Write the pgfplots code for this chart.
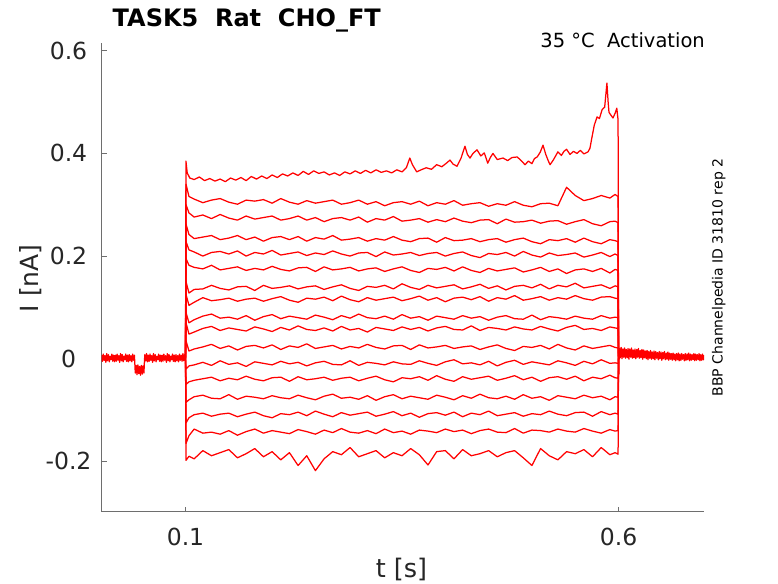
\documentclass[border=0pt]{standalone}
\usepackage{pgfplots}
\usepackage{pgfplotstable}
\pgfplotsset{compat=1.18}
\usepackage{fontspec}
\setmainfont{DejaVu Sans}
\definecolor{axgray}{RGB}{110,110,110}
\definecolor{ticktext}{RGB}{38,38,38}
\pgfplotsset{trace/.style={draw=red, line width=1.25pt, mark=none, line join=round}}

\pgfplotstableread{
t c2 c3 c4 c5 c6 c7 c8 c9 c10 c11 c12 c13 c14 c15 c16 c17
0.1000 0.002 0.002 0.002 0.002 0.002 0.002 0.002 0.002 0.002 0.002 0.002 0.002 0.002 0.002 0.002 0.002
0.1006 0.340 0.300 0.262 0.228 0.195 0.150 0.125 0.090 0.070 0.035 -0.020 -0.050 -0.085 -0.125 -0.165 -0.198
0.1040 0.316 0.284 0.242 0.212 0.182 0.128 0.104 0.070 0.048 0.015 -0.014 -0.045 -0.080 -0.115 -0.150 -0.190
0.11 0.311 0.276 0.234 0.208 0.178 0.135 0.110 0.076 0.052 0.019 -0.012 -0.042 -0.074 -0.109 -0.137 -0.195
0.12 0.304 0.280 0.237 0.200 0.175 0.136 0.119 0.083 0.059 0.023 -0.007 -0.039 -0.071 -0.106 -0.145 -0.179
0.13 0.309 0.273 0.240 0.207 0.182 0.143 0.113 0.087 0.063 0.028 -0.013 -0.036 -0.077 -0.112 -0.143 -0.189
0.14 0.312 0.281 0.232 0.209 0.173 0.137 0.115 0.079 0.055 0.020 -0.004 -0.043 -0.078 -0.108 -0.147 -0.183
0.15 0.305 0.274 0.235 0.204 0.176 0.134 0.118 0.081 0.060 0.025 -0.011 -0.038 -0.070 -0.106 -0.140 -0.177
0.16 0.301 0.270 0.240 0.210 0.179 0.140 0.112 0.077 0.057 0.017 -0.008 -0.041 -0.079 -0.113 -0.149 -0.193
0.17 0.309 0.278 0.232 0.200 0.172 0.141 0.116 0.084 0.054 0.024 -0.015 -0.034 -0.073 -0.108 -0.142 -0.185
0.18 0.307 0.272 0.237 0.207 0.176 0.133 0.118 0.075 0.062 0.026 -0.006 -0.040 -0.075 -0.104 -0.137 -0.175
0.19 0.310 0.275 0.229 0.204 0.173 0.143 0.112 0.082 0.058 0.021 -0.009 -0.043 -0.078 -0.111 -0.145 -0.191
0.20 0.303 0.278 0.236 0.211 0.180 0.137 0.117 0.086 0.053 0.027 -0.012 -0.037 -0.072 -0.115 -0.140 -0.181
0.21 0.312 0.270 0.238 0.202 0.174 0.139 0.121 0.078 0.061 0.018 -0.005 -0.036 -0.076 -0.107 -0.143 -0.197
0.22 0.305 0.273 0.232 0.205 0.171 0.142 0.114 0.083 0.056 0.025 -0.010 -0.044 -0.078 -0.109 -0.146 -0.183
0.23 0.301 0.278 0.238 0.208 0.177 0.136 0.110 0.080 0.064 0.022 -0.007 -0.035 -0.071 -0.104 -0.138 -0.208
0.24 0.308 0.270 0.229 0.201 0.178 0.140 0.118 0.077 0.057 0.029 -0.014 -0.041 -0.076 -0.111 -0.142 -0.189
0.25 0.303 0.275 0.236 0.206 0.170 0.142 0.116 0.085 0.055 0.020 -0.008 -0.039 -0.080 -0.102 -0.147 -0.218
0.26 0.306 0.267 0.233 0.203 0.179 0.135 0.120 0.081 0.060 0.023 -0.005 -0.036 -0.073 -0.108 -0.139 -0.195
0.27 0.309 0.273 0.240 0.210 0.173 0.140 0.113 0.076 0.054 0.026 -0.011 -0.042 -0.069 -0.113 -0.144 -0.181
0.28 0.301 0.275 0.231 0.204 0.175 0.144 0.122 0.084 0.063 0.019 -0.012 -0.038 -0.077 -0.105 -0.136 -0.187
0.29 0.304 0.270 0.233 0.200 0.178 0.137 0.115 0.079 0.056 0.024 -0.004 -0.036 -0.075 -0.110 -0.143 -0.173
0.30 0.309 0.276 0.236 0.206 0.171 0.133 0.111 0.087 0.059 0.021 -0.013 -0.043 -0.079 -0.107 -0.145 -0.191
0.31 0.301 0.266 0.229 0.207 0.175 0.141 0.119 0.080 0.052 0.028 -0.007 -0.038 -0.072 -0.104 -0.140 -0.185
0.32 0.306 0.273 0.234 0.199 0.177 0.139 0.114 0.078 0.061 0.022 -0.009 -0.034 -0.081 -0.112 -0.146 -0.179
0.33 0.298 0.270 0.231 0.208 0.170 0.143 0.117 0.083 0.058 0.019 -0.012 -0.041 -0.074 -0.108 -0.137 -0.193
0.34 0.304 0.277 0.238 0.202 0.175 0.136 0.120 0.077 0.055 0.025 -0.006 -0.045 -0.070 -0.103 -0.144 -0.183
0.35 0.306 0.268 0.231 0.204 0.179 0.146 0.113 0.086 0.062 0.026 -0.010 -0.037 -0.078 -0.111 -0.141 -0.189
0.36 0.301 0.270 0.228 0.207 0.172 0.139 0.117 0.079 0.057 0.018 -0.011 -0.039 -0.073 -0.106 -0.147 -0.175
0.37 0.307 0.273 0.234 0.201 0.168 0.135 0.122 0.082 0.061 0.027 -0.004 -0.035 -0.076 -0.114 -0.139 -0.187
0.38 0.298 0.266 0.235 0.205 0.176 0.143 0.114 0.075 0.054 0.021 -0.009 -0.042 -0.079 -0.107 -0.141 -0.207
0.39 0.304 0.271 0.227 0.207 0.174 0.138 0.119 0.083 0.060 0.023 -0.013 -0.033 -0.071 -0.105 -0.144 -0.181
0.40 0.301 0.267 0.236 0.200 0.178 0.141 0.111 0.080 0.063 0.026 -0.006 -0.040 -0.075 -0.110 -0.137 -0.179
0.41 0.308 0.274 0.230 0.205 0.171 0.144 0.118 0.077 0.057 0.020 -0.002 -0.044 -0.080 -0.104 -0.142 -0.195
0.42 0.299 0.268 0.231 0.208 0.179 0.136 0.120 0.084 0.056 0.023 -0.010 -0.035 -0.072 -0.113 -0.139 -0.177
0.43 0.302 0.265 0.234 0.201 0.172 0.140 0.115 0.079 0.064 0.025 -0.008 -0.040 -0.077 -0.106 -0.146 -0.189
0.44 0.304 0.270 0.228 0.197 0.168 0.145 0.121 0.082 0.055 0.018 -0.012 -0.037 -0.069 -0.109 -0.140 -0.185
0.45 0.297 0.271 0.232 0.205 0.176 0.137 0.112 0.075 0.061 0.023 -0.005 -0.034 -0.076 -0.102 -0.137 -0.179
0.46 0.302 0.263 0.234 0.203 0.171 0.142 0.119 0.081 0.059 0.027 -0.014 -0.042 -0.078 -0.111 -0.143 -0.191
0.47 0.299 0.272 0.227 0.207 0.174 0.134 0.116 0.084 0.056 0.020 -0.007 -0.038 -0.073 -0.108 -0.144 -0.183
0.48 0.306 0.266 0.232 0.200 0.177 0.141 0.123 0.078 0.062 0.016 -0.003 -0.033 -0.079 -0.105 -0.136 -0.179
0.49 0.299 0.267 0.235 0.209 0.169 0.143 0.114 0.077 0.058 0.024 -0.011 -0.041 -0.070 -0.112 -0.145 -0.193
0.50 0.296 0.270 0.228 0.202 0.173 0.138 0.117 0.085 0.056 0.022 -0.006 -0.036 -0.077 -0.107 -0.139 -0.208
0.51 0.302 0.264 0.224 0.198 0.178 0.145 0.121 0.076 0.063 0.026 -0.009 -0.044 -0.074 -0.109 -0.140 -0.175
0.52 0.303 0.268 0.232 0.206 0.170 0.136 0.114 0.082 0.058 0.019 -0.012 -0.037 -0.081 -0.102 -0.143 -0.189
0.53 0.298 0.269 0.230 0.201 0.175 0.143 0.119 0.080 0.054 0.028 -0.004 -0.035 -0.072 -0.108 -0.137 -0.197
0.54 0.334 0.262 0.234 0.203 0.166 0.140 0.116 0.077 0.061 0.021 -0.008 -0.040 -0.075 -0.111 -0.141 -0.181
0.55 0.318 0.267 0.227 0.206 0.173 0.147 0.123 0.083 0.065 0.017 -0.013 -0.034 -0.078 -0.105 -0.143 -0.185
0.56 0.308 0.271 0.235 0.198 0.175 0.138 0.117 0.079 0.057 0.025 -0.005 -0.043 -0.071 -0.104 -0.136 -0.177
0.57 0.312 0.263 0.228 0.202 0.170 0.141 0.114 0.077 0.059 0.020 -0.010 -0.036 -0.076 -0.112 -0.141 -0.191
0.58 0.318 0.259 0.224 0.207 0.176 0.144 0.120 0.084 0.055 0.023 -0.002 -0.039 -0.073 -0.103 -0.145 -0.173
0.59 0.313 0.267 0.232 0.199 0.167 0.137 0.121 0.079 0.062 0.026 -0.009 -0.032 -0.080 -0.109 -0.138 -0.187
0.5960 0.320 0.268 0.230 0.204 0.174 0.142 0.118 0.081 0.060 0.022 -0.008 -0.037 -0.074 -0.106 -0.141 -0.183
0.5995 0.316 0.265 0.228 0.201 0.172 0.140 0.117 0.080 0.059 0.021 -0.009 -0.038 -0.075 -0.108 -0.140 -0.186
0.6000 0.005 0.005 0.005 0.005 0.005 0.005 0.005 0.005 0.005 0.005 0.005 0.005 0.005 0.005 0.005 0.005
}\steptab

\begin{document}
\begin{tikzpicture}[x=1pt,y=1pt]
\useasboundingbox (0,0) rectangle (778,583);
\begin{axis}[
  at={(101.5pt,71.3pt)}, anchor=south west,
  scale only axis, width=602.5pt, height=468.4pt,
  xmin=0.003, xmax=0.6987, ymin=-0.298, ymax=0.6145,
  axis x line*=bottom, axis y line*=left,
  axis line style={draw=axgray, line width=0.8pt, -},
  xtick={0.1,0.6}, xticklabels={0.1,0.6},
  ytick={-0.2,0,0.2,0.4,0.6}, yticklabels={-0.2,{0\hspace{12pt}},0.2,0.4,0.6},
  tick align=inside, major tick length=5pt,
  tick style={draw=axgray, line width=0.8pt},
  ticklabel style={font=\fontsize{23.5}{28}\selectfont, text=ticktext},
  yticklabel style={anchor=center, xshift=-33pt},
  xticklabel style={anchor=base, yshift=-33.7pt},
]
% baseline before step
\addplot[trace] coordinates {(0.003,0.007)(0.004,-0.005)(0.005,0.009)(0.006,-0.003)(0.007,0.006)(0.008,-0.007)(0.009,0.010)(0.010,-0.004)(0.011,0.008)(0.012,-0.006)(0.013,0.005)(0.014,-0.002)(0.015,0.009)(0.016,-0.005)(0.017,0.007)(0.018,-0.006)
(0.019,0.007)(0.020,-0.005)(0.021,0.009)(0.022,-0.003)(0.023,0.006)(0.024,-0.007)(0.025,0.010)(0.026,-0.004)(0.027,0.008)(0.028,-0.006)(0.029,0.005)(0.030,-0.002)(0.031,0.009)(0.032,-0.005)(0.033,0.007)(0.034,-0.006)
(0.035,0.008)(0.036,-0.004)(0.037,0.006)(0.038,-0.006)(0.039,0.009)(0.040,-0.003)(0.041,0.007)
(0.0415,-0.010)(0.042,-0.028)(0.043,-0.013)(0.044,-0.031)(0.045,-0.012)(0.046,-0.029)(0.047,-0.015)(0.048,-0.032)(0.049,-0.013)(0.050,-0.030)(0.051,-0.014)(0.052,-0.028)(0.0525,-0.008)
(0.053,0.008)(0.054,-0.004)(0.055,0.010)(0.056,-0.006)(0.057,0.007)(0.058,-0.005)(0.059,0.009)(0.060,-0.003)(0.061,0.006)(0.062,-0.007)(0.063,0.010)(0.064,-0.004)(0.065,0.008)(0.066,-0.006)(0.067,0.005)(0.068,-0.002)
(0.069,0.009)(0.070,-0.005)(0.071,0.007)(0.072,-0.006)(0.073,0.007)(0.074,-0.005)(0.075,0.009)(0.076,-0.003)(0.077,0.006)(0.078,-0.007)(0.079,0.010)(0.080,-0.004)(0.081,0.008)(0.082,-0.006)(0.083,0.005)(0.084,-0.002)
(0.085,0.009)(0.086,-0.005)(0.087,0.007)(0.088,-0.006)(0.089,0.008)(0.090,-0.004)(0.091,0.006)(0.092,-0.006)(0.093,0.009)(0.094,-0.003)(0.095,0.007)(0.096,-0.005)(0.097,0.010)(0.098,-0.004)(0.099,0.008)(0.0995,-0.003)(0.1,0.002)};
% steps
\pgfplotsinvokeforeach{c17,c16,c15,c14,c13,c12,c11,c10,c9,c8,c7,c6,c5,c4,c3,c2}{
  \addplot[trace] table[x=t,y=#1]{\steptab};
}
% top trace
\addplot[trace] coordinates {(0.1,0.002)(0.1005,0.385)(0.102,0.362)(0.105,0.352)(0.11,0.349)(0.116,0.354)(0.122,0.347)(0.128,0.351)(0.134,0.346)(0.14,0.350)(0.146,0.345)(0.152,0.352)(0.158,0.348)(0.164,0.353)(0.17,0.347)(0.176,0.355)(0.182,0.350)(0.188,0.356)(0.194,0.351)(0.20,0.358)(0.206,0.353)(0.212,0.360)(0.218,0.356)(0.224,0.362)(0.23,0.357)(0.236,0.365)(0.242,0.359)(0.248,0.366)(0.254,0.361)(0.26,0.364)(0.266,0.358)(0.272,0.362)(0.278,0.357)(0.284,0.364)(0.29,0.36)(0.296,0.366)(0.302,0.361)(0.308,0.367)(0.314,0.362)(0.32,0.368)(0.326,0.363)(0.332,0.366)(0.338,0.362)(0.344,0.368)(0.35,0.364)(0.355,0.372)(0.359,0.391)(0.362,0.378)(0.367,0.364)(0.372,0.368)(0.378,0.372)(0.384,0.369)(0.390,0.378)(0.396,0.374)(0.402,0.382)(0.4054,0.387)(0.409,0.379)(0.4135,0.375)(0.418,0.39)(0.4227,0.414)(0.4255,0.398)(0.4285,0.391)(0.432,0.40)(0.4366,0.407)(0.441,0.395)(0.445,0.401)(0.449,0.381)(0.452,0.392)(0.455,0.40)(0.46,0.388)(0.4666,0.391)(0.472,0.386)(0.477,0.392)(0.483,0.393)(0.487,0.387)(0.492,0.378)(0.496,0.385)(0.50,0.38)(0.503,0.39)(0.506,0.393)(0.5095,0.402)(0.5128,0.416)(0.516,0.398)(0.519,0.385)(0.521,0.378)(0.525,0.388)(0.530,0.403)(0.534,0.396)(0.537,0.404)(0.540,0.408)(0.544,0.398)(0.548,0.404)(0.552,0.40)(0.556,0.406)(0.560,0.399)(0.5648,0.403)(0.567,0.41)(0.5694,0.432)(0.572,0.455)(0.5752,0.471)(0.578,0.468)(0.581,0.485)(0.584,0.49)(0.5866,0.537)(0.588,0.50)(0.589,0.48)(0.591,0.475)(0.5936,0.469)(0.596,0.478)(0.598,0.488)(0.5995,0.465)(0.6,0.005)};
% baseline after step
\addplot[trace] coordinates {(0.6,0.005)(0.6004,-0.030)(0.6008,0.010)(0.601,0.020)(0.602,0.002)(0.603,0.022)(0.604,0.000)(0.605,0.019)(0.606,0.003)(0.607,0.021)(0.608,0.001)(0.609,0.018)(0.610,0.002)(0.611,0.020)(0.612,-0.001)(0.613,0.019)(0.614,0.003)(0.615,0.021)(0.616,0.001)(0.617,0.017)(0.618,0.002)(0.619,0.019)(0.620,0.000)(0.621,0.018)(0.622,0.003)(0.623,0.020)(0.624,0.001)(0.625,0.016)(0.626,0.002)(0.627,0.018)(0.628,-0.001)(0.629,0.017)(0.630,0.002)
(0.631,0.015)(0.632,0.000)(0.633,0.016)(0.634,-0.002)(0.635,0.014)(0.636,0.001)(0.637,0.016)(0.638,-0.001)(0.639,0.013)(0.640,0.000)(0.641,0.015)(0.642,-0.002)(0.643,0.014)(0.644,0.001)(0.645,0.012)(0.646,-0.002)(0.647,0.014)(0.648,0.000)(0.649,0.013)(0.650,-0.003)(0.651,0.012)(0.652,0.000)(0.653,0.014)(0.654,-0.002)(0.655,0.011)(0.656,-0.001)(0.657,0.013)(0.658,-0.003)(0.659,0.011)(0.660,-0.001)
(0.661,0.010)(0.662,-0.003)(0.663,0.011)(0.664,-0.002)(0.665,0.009)(0.666,-0.004)(0.667,0.010)(0.668,-0.002)(0.669,0.011)(0.670,-0.004)(0.671,0.009)(0.672,-0.003)(0.673,0.010)(0.674,-0.001)(0.675,0.008)(0.676,-0.004)(0.677,0.010)(0.678,-0.003)(0.679,0.009)(0.680,-0.002)(0.681,0.011)(0.682,-0.004)(0.683,0.009)(0.684,-0.003)(0.685,0.008)(0.686,-0.002)(0.687,0.010)(0.688,-0.004)(0.689,0.009)(0.690,-0.003)(0.691,0.008)(0.692,-0.002)(0.693,0.010)(0.694,-0.004)(0.695,0.008)(0.696,-0.003)(0.697,0.009)(0.698,-0.002)(0.699,0.007)};
\end{axis}
% titles and labels
\node[anchor=base west, inner sep=0pt, font=\fontsize{24}{28}\selectfont\bfseries] at (112.5,556.3) {TASK5\ \ Rat\ \ CHO\_FT};
\node[anchor=base east, inner sep=0pt, font=\fontsize{19.5}{23}\selectfont] at (705,535.7) {35 °C\ \ Activation};
\node[anchor=base, inner sep=0pt, rotate=90, font=\fontsize{14}{17}\selectfont] at (722.7,305.5) {BBP Channelpedia ID 31810 rep 2};
\node[anchor=base, inner sep=0pt, rotate=90, font=\fontsize{25}{30}\selectfont, text=ticktext] at (38.3,304.7) {I [nA]};
\node[anchor=base, inner sep=0pt, font=\fontsize{25.5}{30}\selectfont, text=ticktext] at (401.4,5.5) {t [s]};
\end{tikzpicture}
\end{document}
